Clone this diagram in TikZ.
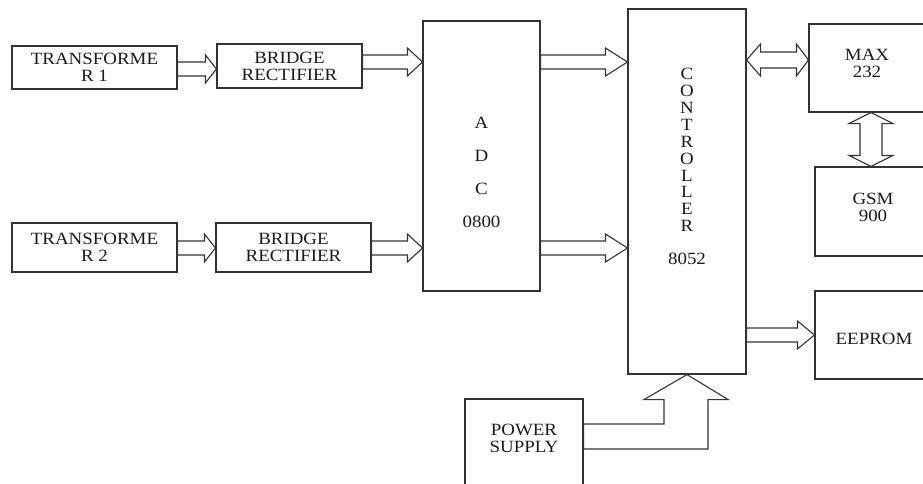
\documentclass[tikz,border=0pt]{standalone}
\usepackage{fontspec}
\setmainfont{Liberation Serif}[FakeStretch=1.1]
\usetikzlibrary{calc}
\definecolor{ln}{HTML}{333333}
\definecolor{tx}{HTML}{1a1a1a}

% hollow block arrow: from node #1 to node #2 at height #3, head length #4
\newcommand{\harrow}[4]{%
  \draw[fat] (#2 |- 0,#3) -- ++(-#4,-14) coordinate (hb) -- ++(0,7)
    -- (#1 |- 0,#3-7) -- (#1 |- 0,#3+7) -- (hb |- 0,#3+7)
    -- (hb |- 0,#3+14) -- cycle;}

\begin{document}
\begin{tikzpicture}[x=1pt,y=-1pt,
  blk/.style={draw=ln,line width=1.1pt,inner sep=0pt,align=center,text=tx,
    font=\fontsize{17.2}{17}\selectfont},
  lbl/.style={inner sep=0pt,align=center,text=tx,font=\fontsize{17.2}{17}\selectfont},
  fat/.style={draw=ln,line width=1.1pt,fill=white,line join=miter}]
  \useasboundingbox (0,0) rectangle (923,483);
  \clip (0,0) rectangle (923,483);
  \fill[white] (0,0) rectangle (923,483);

  % Input chain, two rows
  \node[blk,minimum width=165,minimum height=43] (tr1) at (94.5,67.5) {TRANSFORME\\R 1};
  \node[blk,minimum width=145,minimum height=44] (br1) at (289.5,66) {BRIDGE\\RECTIFIER};
  \node[blk,minimum width=165,minimum height=49] (tr2) at (94.5,247.5) {TRANSFORME\\R 2};
  \node[blk,minimum width=155,minimum height=49] (br2) at (293.5,247.5) {BRIDGE\\RECTIFIER};

  % ADC and controller
  \node[blk,minimum width=117,minimum height=270] (adc) at (481.5,156) {};
  \node[lbl,font=\fontsize{17.2}{33}\selectfont] (adctxt) at (481.5,172) {A\\D\\C\\0800};
  \node[blk,minimum width=118,minimum height=365] (ctrl) at (687,191.5) {};
  \node[lbl,font=\fontsize{17.2}{16.9}\selectfont] (ctrltxt) at (687,150)
    {C\\O\\N\\T\\R\\O\\L\\L\\E\\R};
  \node[lbl] (ctrlnum) at (687,259) {8052};

  % Peripherals (running off the right edge)
  \node[blk,minimum width=131,minimum height=88] (max) at (874.5,68) {};
  \node[lbl] (maxtxt) at (867,63.5) {MAX\\232};
  \node[blk,minimum width=125,minimum height=89] (gsm) at (877.5,211.5) {};
  \node[lbl] (gsmtxt) at (873,207) {GSM\\900};
  \node[blk,minimum width=125,minimum height=88] (eeprom) at (877.5,335) {};
  \node[lbl] (eepromtxt) at (874,339) {EEPROM};
  \node[blk,minimum width=118,minimum height=102] (ps) at (524,450) {};
  \node[lbl] (pstxt) at (524,438.5) {POWER\\SUPPLY};

  % Block arrows
  \harrow{tr1.east}{br1.west}{69}{11}
  \harrow{br1.east}{adc.west}{62}{15}
  \harrow{tr2.east}{br2.west}{248}{11}
  \harrow{br2.east}{adc.west}{248}{15}
  \harrow{adc.east}{ctrl.west}{62}{22}
  \harrow{adc.east}{ctrl.west}{248}{22}
  \harrow{ctrl.east}{eeprom.west}{335}{17}

  % Controller <-> MAX 232
  \draw[fat] (ctrl.east |- 0,60) -- ++(14,-16) coordinate (hl) -- ++(0,8)
    -- ($(max.west |- 0,52)+(-12,0)$) -- ++(0,-8) -- (max.west |- 0,60)
    -- ++(-12,16) -- ++(0,-8) -- (hl |- 0,68) -- ++(0,8) -- cycle;

  % MAX 232 <-> GSM 900
  \draw[fat] (871,0 |- max.south) -- ++(22,11) -- ++(-11,0)
    -- ($(871,0 |- gsm.north)+(11,-11)$) -- ++(11,0) -- (871,0 |- gsm.north)
    -- ++(-22,-11) -- ++(11,0) -- ($(871,0 |- max.south)+(-11,11)$)
    -- ++(-11,0) -- cycle;

  % Power supply into the controller
  \draw[fat] (ctrl.south) -- ++(41,25) -- ++(-20,0) |- (ps.east |- 0,449)
    -- (ps.east |- 0,424) -| ($(ctrl.south)+(-23,25)$) -- ++(-20,0) -- cycle;

\end{tikzpicture}
\end{document}
